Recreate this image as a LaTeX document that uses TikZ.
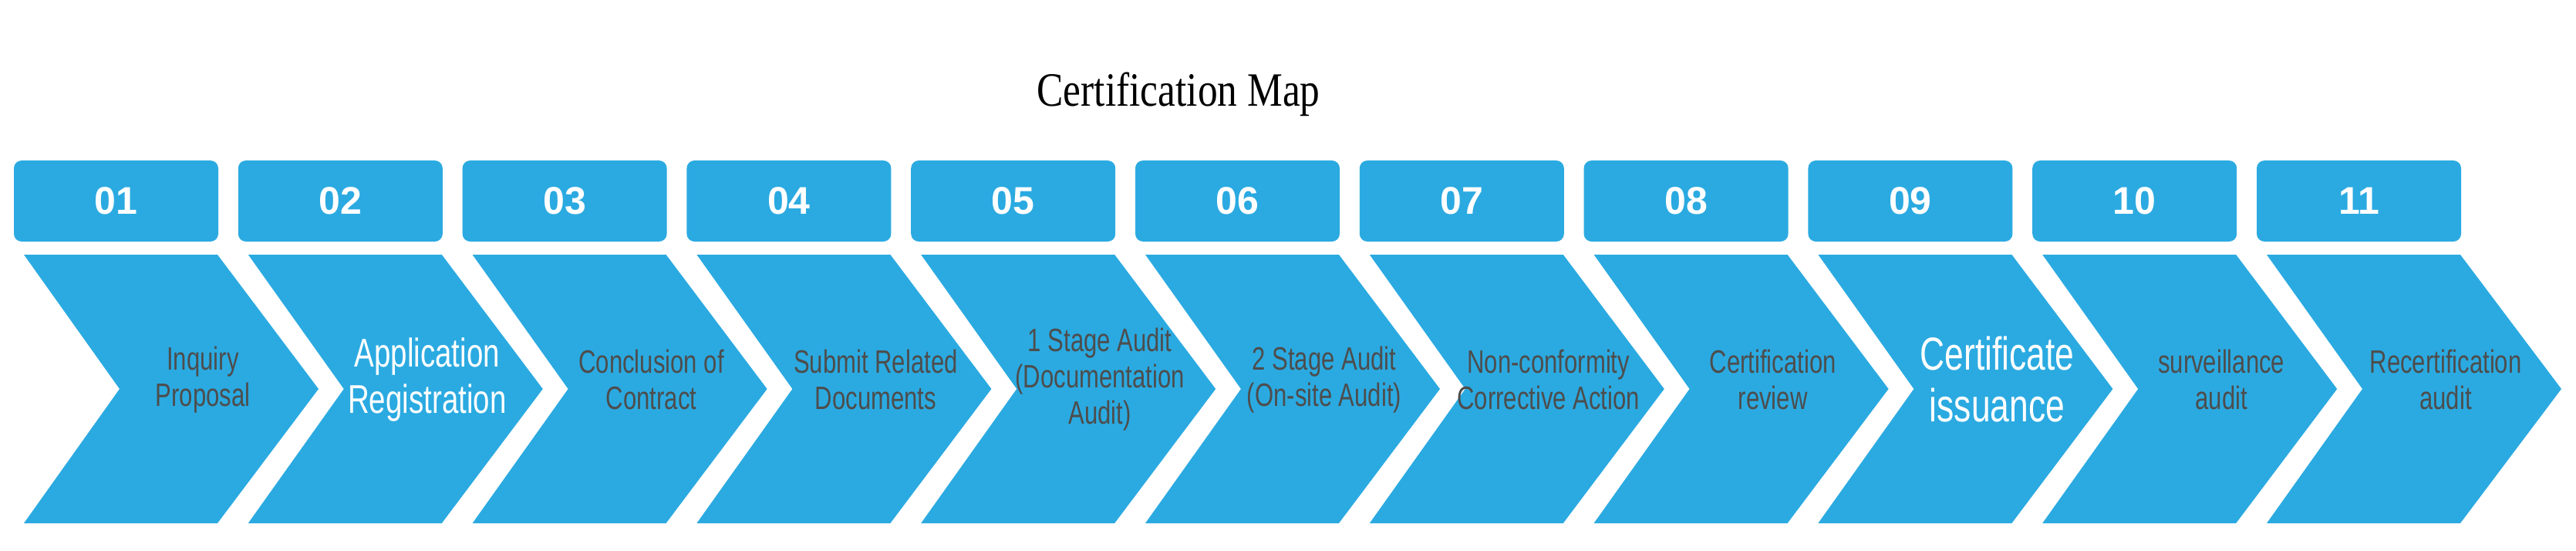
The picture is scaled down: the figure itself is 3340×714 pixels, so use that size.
\documentclass[tikz,border=0pt]{standalone}
\usepackage{fontspec}
\setmainfont{Liberation Serif}
\newfontfamily\numfont{Liberation Sans}
\newfontfamily\stepfont[FakeStretch=0.74]{Liberation Sans}
\newfontfamily\titlefont[FakeStretch=0.83]{Liberation Serif}
\definecolor{mapblue}{RGB}{43,170,225}
\definecolor{mapgray}{RGB}{77,77,77}
\tikzset{
  numbox/.style={fill=mapblue, rounded corners=10pt, minimum width=265pt,
    minimum height=105pt, inner sep=0pt, text=white,
    font=\numfont\bfseries\fontsize{50}{50}\selectfont},
  steptext/.style={align=center, inner sep=0pt, text=mapgray,
    font=\stepfont\fontsize{42}{47}\selectfont},
  whitetext/.style={align=center, inner sep=0pt, text=white,
    font=\stepfont\fontsize{52}{60}\selectfont},
  whitebig/.style={align=center, inner sep=0pt, text=white,
    font=\stepfont\fontsize{60}{67}\selectfont},
}

\begin{document}
\begin{tikzpicture}[x=1pt, y=-1pt]
  \useasboundingbox (0,0) rectangle (3340,714);

  % title
  \node (title) [anchor=base, inner sep=0pt, font=\titlefont\fontsize{62}{62}\selectfont]
    at (1528,138) {Certification Map};

  % steps
  \foreach \n/\txt/\sty [count=\i] in {
      01/{Inquiry\\Proposal}/steptext,
      02/{Application\\Registration}/whitetext,
      03/{Conclusion of\\Contract}/steptext,
      04/{Submit Related\\Documents}/steptext,
      05/{1 Stage Audit\\(Documentation\\Audit)}/steptext,
      06/{2 Stage Audit\\(On-site Audit)}/steptext,
      07/{Non-conformity\\Corrective Action}/steptext,
      08/{Certification\\review}/steptext,
      09/{Certificate\\issuance}/whitebig,
      10/{surveillance\\audit}/steptext,
      11/{Recertification\\audit}/steptext} {
    \pgfmathsetmacro\xo{31+(\i-1)*290.8}
    % number box
    \node (num\i) [numbox] at (\xo+119.5,260.5) {\n};
    % chevron
    \fill [mapblue] (\xo,330) -- ++(251,0) -- ++(131,174) -- ++(-131,174)
      -- ++(-251,0) -- ++(124,-174) -- cycle;
    \node (step\i) [\sty] at (\xo+232,492) {\txt};
  }

\end{tikzpicture}
\end{document}
